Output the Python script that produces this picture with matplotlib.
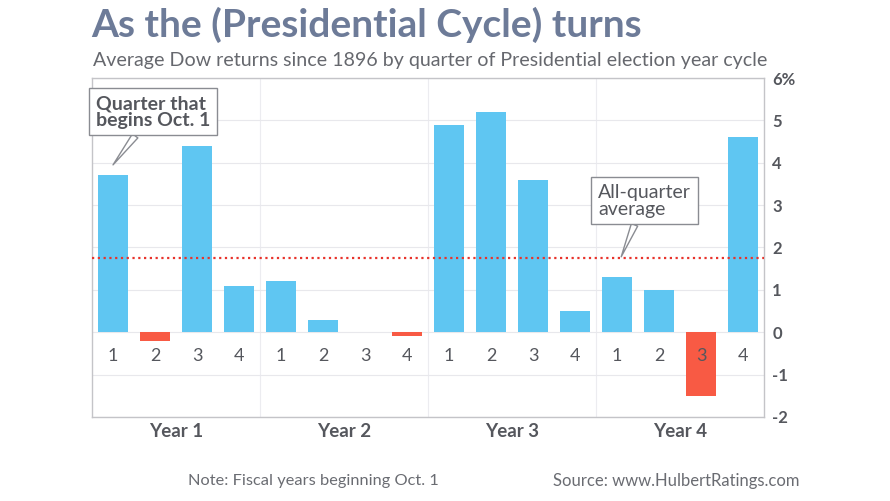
import numpy as np
import matplotlib.pyplot as plt

# Average Dow returns by quarter of the presidential cycle (%)
quarters = ['1', '2', '3', '4'] * 4
years = ['Year 1', 'Year 2', 'Year 3', 'Year 4']
returns = [3.7, -0.2, 4.4, 1.1, 1.2, 0.3, 0.0, -0.1,
           4.9, 5.2, 3.6, 0.5, 1.3, 1.0, -1.5, 4.6]
average = 1.75
ytick_labels = ['-2', '-1', '0', '1', '2', '3', '4', '5', '6%']

plt.rcParams['font.family'] = ['Lato', 'DejaVu Sans']

blue = '#5fc6f2'
red = '#f85a44'
grey_text = '#55575d'

fig = plt.figure(figsize=(8.9, 5.01), dpi=100)
ax = fig.add_axes([0.1034, 0.1677, 0.755, 0.6766])

x = np.arange(len(returns))
colors = [blue if v >= 0 else red for v in returns]
ax.bar(x, returns, width=0.71, color=colors, zorder=3)

ax.axhline(average, color='#e8332b', lw=1.6, ls=(0, (1, 1.6)), zorder=4)

ax.set_xlim(-0.5, 15.5)
ax.set_ylim(-2, 6)
yt = np.arange(-2, 7)
ax.set_yticks(yt)
ax.set_yticklabels(ytick_labels, fontsize=12, fontweight='bold', color=grey_text)
ax.yaxis.tick_right()
ax.tick_params(axis='y', length=0, pad=6)
ax.set_xticks([])
ax.grid(axis='y', color='#e8e8ec', lw=0.8, zorder=0)
for xv in [3.5, 7.5, 11.5]:
    ax.axvline(xv, color='#ececf0', lw=0.8, zorder=0)
for s in ax.spines.values():
    s.set_color('#c4c4c8')
    s.set_linewidth(1.0)

for xi, q in zip(x, quarters):
    ax.text(xi, -0.57, q, ha='center', va='center', fontsize=13,
            color=grey_text, zorder=5)
for i, yr in enumerate(years):
    ax.text(4 * i + 1.5, -2.35, yr, ha='center', va='center', fontsize=13.5,
            fontweight='bold', color=grey_text)

box = dict(boxstyle='square,pad=0.35', fc='white', ec='#8a8c92', lw=1.0)
wedge = dict(arrowstyle='wedge,tail_width=0.35,shrink_factor=0.5', fc='white',
             ec='#8a8c92', lw=1.0, shrinkA=0, shrinkB=0)
ax.annotate('Quarter that\nbegins Oct. 1', xy=(0.0, 3.95), xytext=(-0.4, 5.2),
            fontsize=14, fontweight='bold', color=grey_text, linespacing=0.95,
            ha='left', va='center', bbox=box, arrowprops=wedge, zorder=6)
ax.annotate('All-quarter\naverage', xy=(12.1, 1.78), xytext=(11.55, 3.1),
            fontsize=14, color=grey_text, linespacing=0.95,
            ha='left', va='center', bbox=box, arrowprops=wedge, zorder=6)

fig.text(0.102, 0.95, 'As the (Presidential Cycle) turns', fontsize=28,
         fontweight='bold', color='#6d7b98', ha='left', va='center')
fig.text(0.104, 0.88, 'Average Dow returns since 1896 by quarter of Presidential election year cycle',
         fontsize=14.1, color='#66686e', ha='left', va='center')
fig.text(0.352, 0.04, 'Note: Fiscal years beginning Oct. 1', fontsize=11.8,
         color='#6a6c72', ha='center', va='center')
fig.text(0.621, 0.04, 'Source: www.HulbertRatings.com', fontsize=12,
         color='#6a6c72', ha='left', va='center')

fig.savefig('out.png', dpi=100)
